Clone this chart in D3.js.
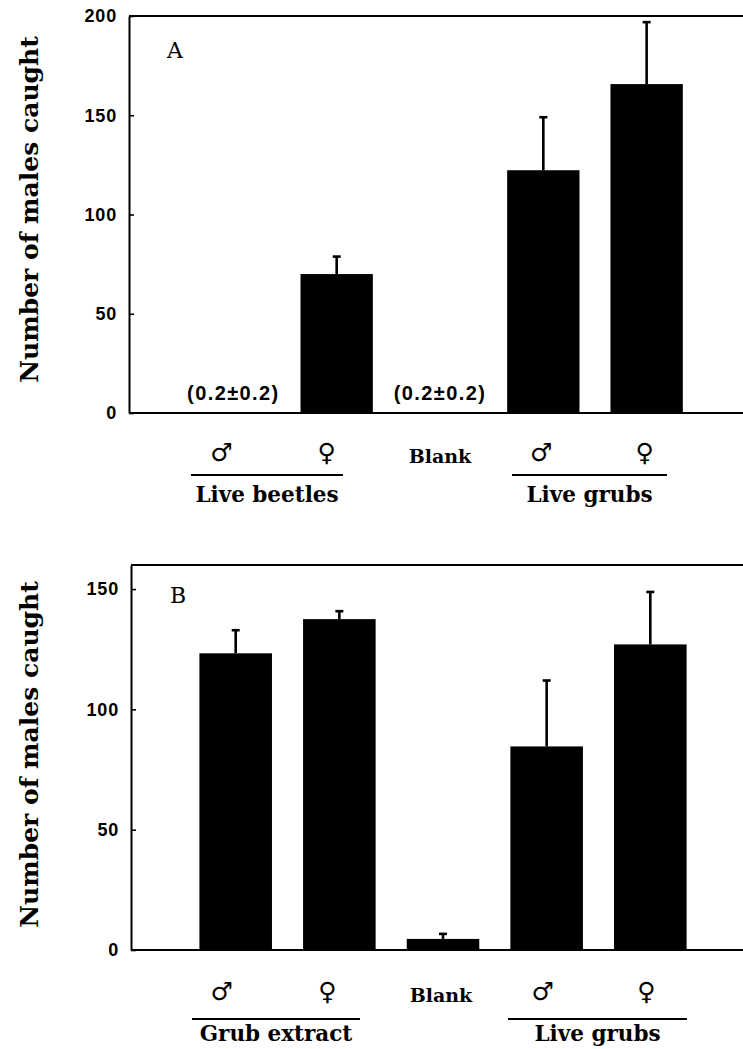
<!DOCTYPE html>
<html>
<head>
<meta charset="utf-8">
<script src="https://cdn.jsdelivr.net/npm/d3@7"></script>
<style>
  html, body { margin: 0; padding: 0; background: #fff; }
  svg { display: block; }
</style>
</head>
<body>
<svg id="chart" width="743" height="1049"></svg>
<script>
// ---- data ----
const categories = ["maleA", "femaleA", "blank", "maleB", "femaleB"];
const symbolLabels = ["♂", "♀", "Blank", "♂", "♀"];

const panelALetter = "A";
const panelAMeans = [0.2, 70, 0.2, 122.3, 165.7];
const panelASE = [0.2, 8.8, 0.2, 26.7, 31.2];
const panelAGroups = ["Live beetles", "Live grubs"];
const panelANotes = ["(0.2±0.2)", null, "(0.2±0.2)", null, null];
const panelATicks = [0, 50, 100, 150, 200];
const panelAMax = 200;

const panelBLetter = "B";
const panelBMeans = [123.3, 137.5, 4.6, 84.6, 127.0];
const panelBSE = [9.6, 3.3, 2.1, 27.4, 21.8];
const panelBGroups = ["Grub extract", "Live grubs"];
const panelBNotes = [null, null, null, null, null];
const panelBTicks = [0, 50, 100, 150];
const panelBMax = 160;

const yTitle = "Number of males caught";

// ---- drawing ----
const svg = d3.select("#chart");
const serif = "'DejaVu Serif', serif";
const sans = "'Liberation Sans', Arial, sans-serif";

function drawPanel(cfg) {
  const g = svg.append("g").attr("transform", `translate(${cfg.left},${cfg.top})`);
  const h = cfg.height;
  const x = d3.scaleBand().domain(categories).range([0, cfg.width])
    .paddingInner(0.3).paddingOuter(0.66);
  const y = d3.scaleLinear().domain([0, cfg.max]).range([h, 0]);

  const data = categories.map((c, i) => ({c, m: cfg.means[i], se: cfg.se[i], note: cfg.notes[i]}));
  g.selectAll("rect.bar").data(data).join("rect")
    .attr("class", "bar")
    .attr("x", d => x(d.c))
    .attr("width", x.bandwidth())
    .attr("y", d => y(d.m))
    .attr("height", d => h - y(d.m))
    .attr("fill", "#000");

  const eb = data.filter(d => d.se * (h / cfg.max) > 1.5);
  g.selectAll("line.err").data(eb).join("line")
    .attr("x1", d => x(d.c) + x.bandwidth() / 2)
    .attr("x2", d => x(d.c) + x.bandwidth() / 2)
    .attr("y1", d => y(d.m))
    .attr("y2", d => y(d.m + d.se))
    .attr("stroke", "#000").attr("stroke-width", 2.6);
  g.selectAll("line.cap").data(eb).join("line")
    .attr("x1", d => x(d.c) + x.bandwidth() / 2 - 4)
    .attr("x2", d => x(d.c) + x.bandwidth() / 2 + 4)
    .attr("y1", d => y(d.m + d.se))
    .attr("y2", d => y(d.m + d.se))
    .attr("stroke", "#000").attr("stroke-width", 2.6);

  g.selectAll("text.note").data(data.filter(d => d.note)).join("text")
    .attr("x", d => x(d.c) + x.bandwidth() / 2)
    .attr("y", h - 13)
    .attr("text-anchor", "middle")
    .attr("font-family", sans).attr("font-weight", "bold").attr("font-size", 20)
    .attr("letter-spacing", 1.4)
    .text(d => d.note);

  g.append("line").attr("x1", 0).attr("x2", 760).attr("y1", 0).attr("y2", 0)
    .attr("stroke", "#000").attr("stroke-width", 2);
  g.append("line").attr("x1", 0).attr("x2", 760).attr("y1", h).attr("y2", h)
    .attr("stroke", "#000").attr("stroke-width", 2);

  const axis = d3.axisLeft(y).tickValues(cfg.ticks).tickSize(-5).tickPadding(12).tickSizeOuter(0);
  const ag = g.append("g").call(axis);
  ag.select(".domain").attr("stroke-width", 2);
  ag.selectAll(".tick line").attr("stroke-width", 1.6);
  ag.selectAll(".tick text").attr("font-family", sans).attr("font-weight", "bold")
    .attr("font-size", 18).attr("letter-spacing", 0.8).attr("fill", "#000");

  g.append("text").attr("x", cfg.letterX).attr("y", cfg.letterY)
    .attr("font-family", serif)
    .attr("font-size", 22).text(cfg.letter);

  g.append("text")
    .attr("transform", `translate(${cfg.titleX},${h / 2 + cfg.titleDy}) rotate(-90)`)
    .attr("text-anchor", "middle")
    .attr("font-family", serif).attr("font-weight", "bold").attr("font-size", 25)
    .text(yTitle);

  const symOffsets = [-12, -10, 0, -2, -2];
  g.selectAll("text.cat").data(categories).join("text")
    .attr("class", "cat")
    .attr("x", (c, i) => x(c) + x.bandwidth() / 2 + symOffsets[i] + cfg.symShift)
    .attr("y", (c, i) => h + cfg.symY + (i === 2 ? 2 : 0))
    .attr("text-anchor", "middle")
    .attr("font-family", (c, i) => i === 2 ? serif : "'DejaVu Sans', sans-serif")
    .attr("font-weight", "bold")
    .attr("font-size", (c, i) => i === 2 ? 19 : 25)
    .text((c, i) => symbolLabels[i]);

  cfg.groups.forEach((name, gi) => {
    const [x1, x2] = cfg.groupSpans[gi];
    g.append("line").attr("x1", x1).attr("x2", x2)
      .attr("y1", h + cfg.lineY).attr("y2", h + cfg.lineY)
      .attr("stroke", "#000").attr("stroke-width", 2);
    g.append("text").attr("x", (x1 + x2) / 2).attr("y", h + cfg.groupY)
      .attr("text-anchor", "middle")
      .attr("font-family", serif).attr("font-weight", "bold").attr("font-size", 21.5)
      .text(name);
  });
}

drawPanel({
  left: 129, top: 16, width: 622, height: 397, max: panelAMax,
  means: panelAMeans, se: panelASE, notes: panelANotes, ticks: panelATicks,
  letter: panelALetter, letterX: 38, letterY: 42,
  titleX: -91, titleDy: -5,
  symShift: 0, symY: 48,
  groups: panelAGroups, groupSpans: [[62, 214], [383, 538]],
  lineY: 62, groupY: 89
});

drawPanel({
  left: 131, top: 565, width: 624, height: 385, max: panelBMax,
  means: panelBMeans, se: panelBSE, notes: panelBNotes, ticks: panelBTicks,
  letter: panelBLetter, letterX: 39, letterY: 38,
  titleX: -93, titleDy: -3,
  symShift: -2, symY: 50,
  groups: panelBGroups, groupSpans: [[61, 229], [377, 556]],
  lineY: 69, groupY: 91
});
</script>
</body>
</html>
